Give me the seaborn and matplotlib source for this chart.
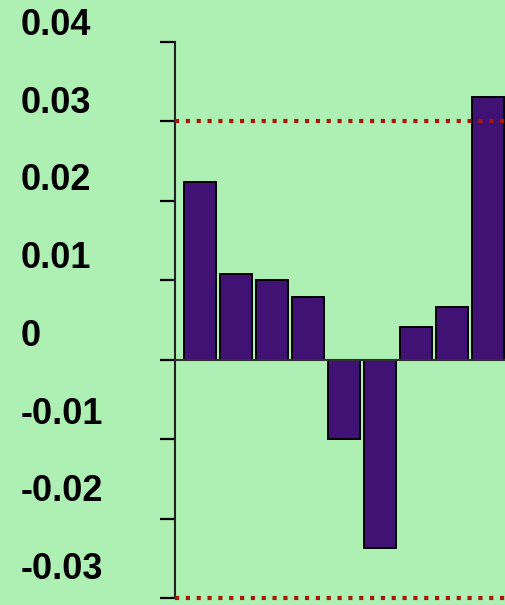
import matplotlib
matplotlib.use("Agg")
import matplotlib.pyplot as plt
import seaborn as sns
import pandas as pd

# bar values
categories = ["1", "2", "3", "4", "5", "6", "7", "8", "9"]
values = [0.0224, 0.0108, 0.0100, 0.0079, -0.0100, -0.0237, 0.0041, 0.0066, 0.0330]
limits = [0.03, -0.03]  # red dotted reference lines
yticks = [-0.03, -0.02, -0.01, 0, 0.01, 0.02, 0.03, 0.04]
yticklabels = ["-0.03", "-0.02", "-0.01", "0", "0.01", "0.02", "0.03", "0.04"]

bg = "#AEF0B3"
bar_color = "#3F1274"
red = "#A8180A"

df = pd.DataFrame({"cat": categories, "val": values})

sns.set_style("white")
plt.rcParams["font.family"] = ["Liberation Sans", "DejaVu Sans"]

W, H = 506, 605
fig = plt.figure(figsize=(W / 100, H / 100), dpi=100, facecolor=bg)
ax = fig.add_axes([175 / W, 1 - 598 / H, 331 / W, (598 - 41.7) / H])
ax.set_facecolor(bg)

sns.barplot(data=df, x="cat", y="val", color=bar_color, saturation=1,
            edgecolor="black", linewidth=1.4, width=0.89, ax=ax, zorder=2)

ax.axhline(0, color="#333333", lw=1.5, zorder=3)
for lim in limits:
    ax.axhline(lim, color=red, lw=3.0, linestyle=(0, (1, 1.6)),
               dash_capstyle="butt", zorder=4, clip_on=False)

ax.set_xlim(-0.69, 8.5)
ax.set_ylim(-0.03, 0.04)
ax.set_xlabel("")
ax.set_ylabel("")
ax.set_xticks([])

for s in ["top", "right", "bottom"]:
    ax.spines[s].set_visible(False)
ax.spines["left"].set_color("#222222")
ax.spines["left"].set_linewidth(1.5)

ax.set_yticks(yticks)
ax.set_yticklabels([])
ax.tick_params(axis="y", left=True, length=10.8, width=1.6, color="black")

# labels sit on their own, slightly tighter, scale above the tick marks
lab_ax = fig.add_axes([175 / W, 1 - 565.5 / H, 331 / W, (565.5 - 21.5) / H])
lab_ax.patch.set_visible(False)
for s in lab_ax.spines.values():
    s.set_visible(False)
lab_ax.set_xticks([])
lab_ax.set_ylim(-0.03, 0.04)
lab_ax.set_yticks(yticks)
lab_ax.set_yticklabels(yticklabels, fontsize=26, fontweight="bold", ha="left", color="black")
lab_ax.tick_params(axis="y", length=0, pad=(175 - 21) * 0.72)

fig.savefig("out.png", dpi=100, facecolor=bg)
